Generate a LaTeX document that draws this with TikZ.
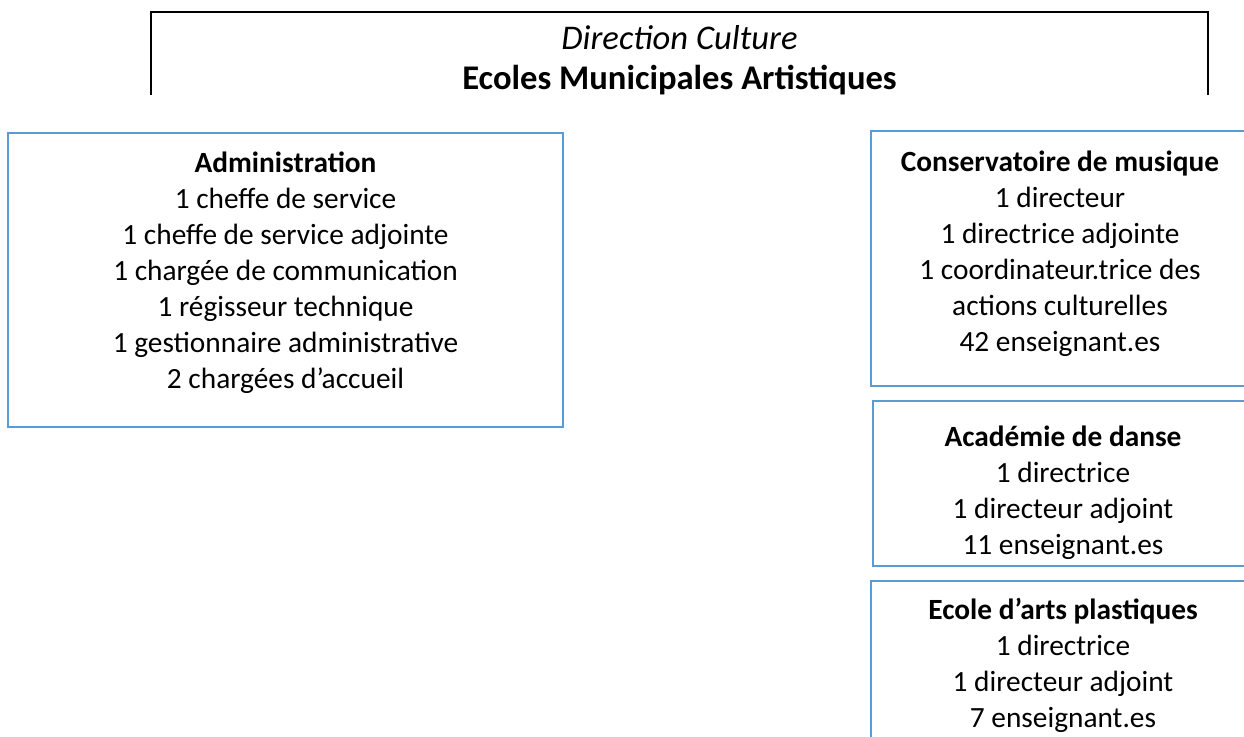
\documentclass[tikz,border=0pt]{standalone}
\usepackage{fontspec}
\setmainfont{Carlito}
\usetikzlibrary{positioning}
\definecolor{boxblue}{HTML}{5B9BD5}

\begin{document}
\begin{tikzpicture}[x=0.5pt, y=-0.5pt,
every node/.style = {align=center, inner sep=0pt,
  font=\fontsize{14.67}{18}\selectfont},
headtext/.style = {font=\fontsize{17.3}{20}\selectfont},
headline/.style = {line width=1pt, draw=black},
unitbox/.style = {line width=1pt, draw=boxblue}
]
\useasboundingbox (0,0) rectangle (1244,737);

% direction
\draw[headline] (151,95) -- (151,12) -- (1208,12) -- (1208,95);
\node[headtext, anchor=north] (head) at (679.5,25) {\textit{Direction Culture}\\
  \textbf{Ecoles Municipales Artistiques}};

% services
\draw[unitbox] (8,133) rectangle (563,427);
\node[anchor=north] (admin) at (285.5,151) {\textbf{Administration}\\
  1 cheffe de service\\1 cheffe de service adjointe\\
  1 chargée de communication\\1 régisseur technique\\
  1 gestionnaire administrative\\2 chargées d’accueil};

\draw[unitbox] (871,131) rectangle (1262,386);
\node[anchor=north] (conserv) at (1060,151) {\textbf{Conservatoire de musique}\\
  1 directeur\\1 directrice adjointe\\1 coordinateur.trice des\\
  actions culturelles\\42 enseignant.es};

\draw[unitbox] (873,401) rectangle (1262,566);
\node[anchor=north] (danse) at (1063,426) {\textbf{Académie de danse}\\
  1 directrice\\1 directeur adjoint\\11 enseignant.es};

\draw[unitbox] (871,581) rectangle (1262,760);
\node[anchor=north] (arts) at (1063,598) {\textbf{Ecole d’arts plastiques}\\
  1 directrice\\1 directeur adjoint\\7 enseignant.es};

\end{tikzpicture}
\end{document}
